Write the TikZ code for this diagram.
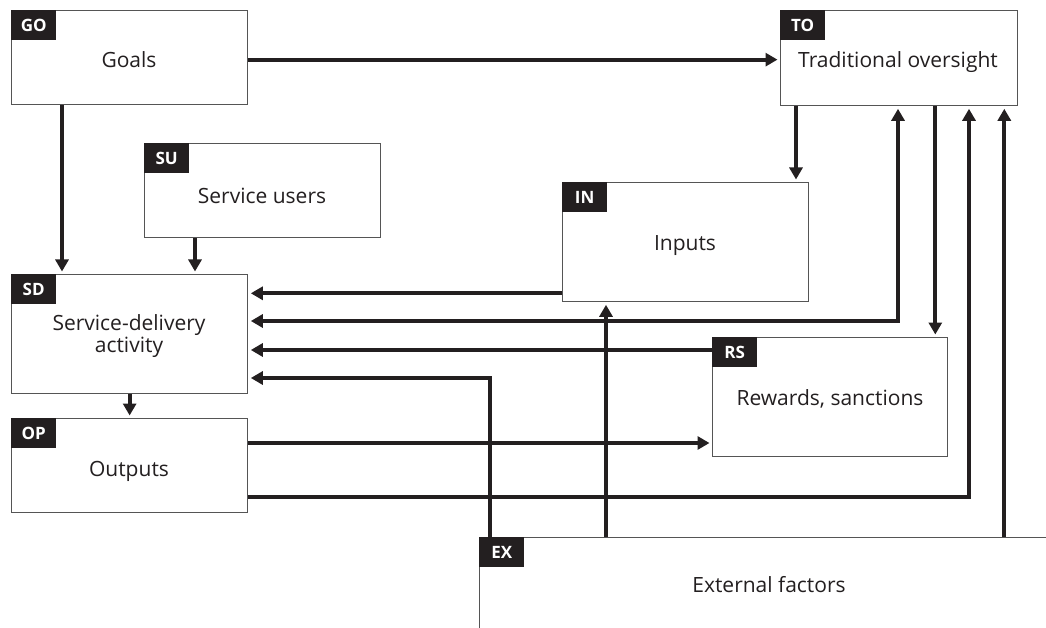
\documentclass[tikz,border=0pt]{standalone}
\usepackage{fontspec}
\setmainfont{Open Sans}
\usetikzlibrary{arrows.meta,calc}
\definecolor{ink}{HTML}{231F20}
\definecolor{edge}{HTML}{555555}

\begin{document}
\begin{tikzpicture}[x=1pt,y=-1pt,
  box/.style={draw=edge, line width=1.3pt, fill=white, inner sep=0pt, anchor=north west},
  tag/.style={fill=ink, text=white, font=\fontsize{17}{17}\selectfont\bfseries,
    minimum width=45pt, minimum height=30pt, inner sep=0pt, anchor=north west},
  lbl/.style={text=ink, font=\fontsize{21}{25}\selectfont, anchor=base, inner sep=0pt},
  conn/.style={draw=ink, line width=4pt},
  arr/.style={conn, -{Triangle[length=12pt,width=13pt]}, shorten >=2.5pt},
  biarr/.style={conn, {Triangle[length=12pt,width=13pt]}-{Triangle[length=12pt,width=13pt]},
    shorten >=2.5pt, shorten <=2.5pt},
]
\useasboundingbox (0,0) rectangle (1046,628);

% boxes
\node[box, minimum width=236pt, minimum height=94pt]  (GO) at (11,10)   {};
\node[box, minimum width=237pt, minimum height=95pt]  (TO) at (780,10)  {};
\node[box, minimum width=236pt, minimum height=94pt]  (SU) at (144,143) {};
\node[box, minimum width=236pt, minimum height=119pt] (SD) at (11,274)  {};
\node[box, minimum width=236pt, minimum height=94pt]  (OP) at (11,418)  {};
\node[box, minimum width=246pt, minimum height=119pt] (IN) at (562,182) {};
\node[box, minimum width=235pt, minimum height=119pt] (RS) at (712,337) {};
% external factors: open box running off the page to the right and bottom
\node[box, minimum width=640pt, minimum height=160pt] (EX) at (479,537) {};

% bend points of the routed connectors
\coordinate (kTO) at (898,321);
\coordinate (kEX) at (490,378);
\coordinate (kOP) at (969,497);

% connectors
\draw[arr] ([yshift=-2pt]GO.east) -- ([yshift=-2pt]GO.east -| TO.west);
\draw[arr] ([xshift=51pt]GO.south west) -- ([xshift=51pt]GO.south west |- SD.north);
\draw[arr] ([xshift=51pt]SU.south west) -- ([xshift=51pt]SU.south west |- SD.north);
\draw[arr] (SD.south) -- (OP.north);
\draw[arr] ([xshift=16pt]TO.south west) -- ([xshift=16pt]TO.south west |- IN.north);
\draw[arr] ([xshift=-13pt]RS.north east |- TO.south) -- ([xshift=-13pt]RS.north east);
\draw[arr] ([yshift=9pt]IN.south west) -- ([yshift=9pt]IN.south west -| SD.east);
\draw[biarr] (SD.east |- kTO) -- (kTO) -- (kTO |- TO.south);
\draw[arr] ([yshift=-13pt]RS.north west) -- ([yshift=-13pt]RS.north west -| SD.east);
\draw[arr] (kEX |- EX.north) -- (kEX) -- (SD.east |- kEX);
\draw[arr] ([xshift=44pt]IN.south west |- EX.north) -- ([xshift=44pt]IN.south west);
\draw[arr] ([yshift=-25pt]OP.north east) -- ([yshift=-25pt]OP.north east -| RS.west);
\draw[arr] (OP.east |- kOP) -- (kOP) -- (kOP |- TO.south);
\draw[arr] ([xshift=-14pt]TO.south east |- EX.north) -- ([xshift=-14pt]TO.south east);

% tags
\node[tag] (GOtag) at (GO.north west) {GO};
\node[tag] (TOtag) at (TO.north west) {TO};
\node[tag] (SUtag) at (SU.north west) {SU};
\node[tag] (SDtag) at (SD.north west) {SD};
\node[tag] (OPtag) at (OP.north west) {OP};
\node[tag] (INtag) at (IN.north west) {IN};
\node[tag] (RStag) at (RS.north west) {RS};
\node[tag] (EXtag) at (EX.north west) {EX};

% labels
\node[lbl] (GOtext)  at (129,68)  {Goals};
\node[lbl] (TOtext)  at (898,68)  {Traditional oversight};
\node[lbl] (SUtext)  at (262,204) {Service users};
\node[lbl] (SDtext1) at (129,330) {Service-delivery};
\node[lbl] (SDtext2) at (129,352) {activity};
\node[lbl] (OPtext)  at (129,476) {Outputs};
\node[lbl] (INtext)  at (685,251) {Inputs};
\node[lbl] (RStext)  at (830,405) {Rewards, sanctions};
\node[lbl] (EXtext)  at (769,592) {External factors};
\end{tikzpicture}
\end{document}
